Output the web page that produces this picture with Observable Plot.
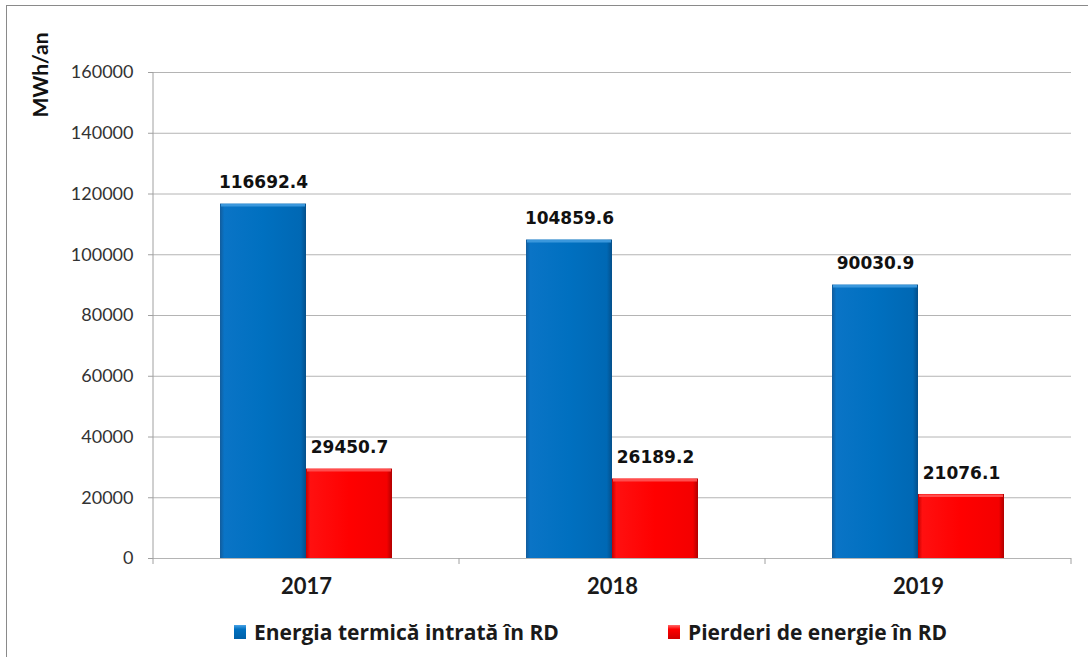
<!DOCTYPE html>
<html>
<head>
<meta charset="utf-8">
<script src="https://cdn.jsdelivr.net/npm/d3@7"></script>
<script src="https://cdn.jsdelivr.net/npm/@observablehq/plot@0.6"></script>
<style>
  body { margin: 0; background: #fff; }
  #wrap { position: relative; width: 1088px; height: 657px; overflow: hidden; background: #fff; }
  #frame { position: absolute; left: 6px; top: 5px; right: -10px; bottom: -10px;
           border-top: 1.5px solid #8a8a8a; border-left: 1.5px solid #8a8a8a; }
  #chart { position: absolute; left: 0; top: 0; }
  .leg { position: absolute; top: 618px; display: flex; align-items: center;
         font-family: "Open Sans", sans-serif; font-weight: bold;
         font-size: 21px; color: #1a1a1a; white-space: nowrap; }
  .sw { width: 12px; height: 14px; margin-right: 8px; }
</style>
</head>
<body>
<div id="wrap">
  <div id="frame"></div>
  <div id="chart"></div>
  <div class="leg" style="left:234px"><div class="sw" style="background:linear-gradient(#4aa3e6,#0070c0 30%,#0060a8)"></div><span id="l0"></span></div>
  <div class="leg" style="left:668px"><div class="sw" style="background:linear-gradient(#ff6a6a,#ff0000 30%,#d00000)"></div><span id="l1"></span></div>
</div>
<script>
const years = ["2017", "2018", "2019"];
const seriesNames = ["Energia termică intrată în RD", "Pierderi de energie în RD"];
const energieIntrata = [116692.4, 104859.6, 90030.9];
const pierderiEnergie = [29450.7, 26189.2, 21076.1];
const yTicks = [0, 20000, 40000, 60000, 80000, 100000, 120000, 140000, 160000];
const yTitle = "MWh/an";

const data = years.flatMap((yr, i) => [
  { year: yr, series: seriesNames[0], value: energieIntrata[i] },
  { year: yr, series: seriesNames[1], value: pierderiEnergie[i] }
]);

document.getElementById("l0").textContent = seriesNames[0];
document.getElementById("l1").textContent = seriesNames[1];

const fmt = d3.format(".1f");

const plot = Plot.plot({
  width: 1088,
  height: 600,
  marginLeft: 153,
  marginRight: 17,
  marginTop: 72,
  marginBottom: 42,
  style: { background: "transparent", overflow: "visible", fontFamily: "Lato, sans-serif" },
  fx: { domain: years, padding: 0, label: null },
  x: { domain: seriesNames, paddingInner: 0, paddingOuter: 0.76, axis: null },
  y: { domain: [0, 160000], label: null, axis: null },
  color: { domain: seriesNames, range: ["url(#gBlue)", "url(#gRed)"] },
  marks: [
    Plot.gridY(yTicks, { stroke: "#b4b4b4", strokeOpacity: 1, strokeWidth: 1 }),
    Plot.axisY(yTicks, { tickSize: 5, tickPadding: 15, tickFormat: d => String(d),
      fontSize: 18, fill: "#333", stroke: "#a0a0a0", label: null }),
    Plot.axisFx({ anchor: "bottom", tickSize: 0, tickPadding: 20, fontSize: 22,
      fontWeight: "bold", fill: "#1a1a1a", label: null }),
    Plot.barY(data, { fx: "year", x: "series", y: "value", fill: "series" }),
    Plot.tickY(data.filter(d => d.series === seriesNames[0]),
      { fx: "year", x: "series", y: "value", stroke: "#3a97dc", strokeWidth: 2.5, dy: 1.25, inset: 1 }),
    Plot.tickY(data.filter(d => d.series === seriesNames[1]),
      { fx: "year", x: "series", y: "value", stroke: "#ff4d4d", strokeWidth: 2.5, dy: 1.25, inset: 1 }),
    Plot.text(data, { fx: "year", x: "series", y: "value", text: d => fmt(d.value),
      dy: -21, fontSize: 17, fontWeight: "bold", fontFamily: "DejaVu Sans", fill: "#111" })
  ]
});

const svg = d3.select(plot);
const defs = svg.insert("defs", ":first-child");
function grad(id, stops) {
  const g = defs.append("linearGradient").attr("id", id)
    .attr("x1", 0).attr("x2", 1).attr("y1", 0).attr("y2", 0);
  stops.forEach(([o, c]) => g.append("stop").attr("offset", o).attr("stop-color", c));
}
grad("gBlue", [[0, "#125c9c"], [0.05, "#0a74c6"], [0.5, "#0070c0"], [0.94, "#0068b4"], [1, "#044f8a"]]);
grad("gRed", [[0, "#c40000"], [0.05, "#ff1010"], [0.5, "#ff0000"], [0.94, "#f40000"], [1, "#b00000"]]);

const fx = plot.scale("fx");
const y = plot.scale("y");
const y0 = y.apply(0), yTop = y.apply(yTicks[yTicks.length - 1]);
const xLeft = fx.apply(years[0]);
const g = svg.append("g").attr("stroke", "#a0a0a0").attr("stroke-width", 1);
g.append("line").attr("x1", xLeft).attr("x2", xLeft).attr("y1", yTop).attr("y2", y0);
const edges = years.map(yr => fx.apply(yr)).concat([fx.apply(years[years.length - 1]) + fx.bandwidth]);
edges.forEach(x => g.append("line").attr("x1", x).attr("x2", x).attr("y1", y0).attr("y2", y0 + 6));

svg.append("text").text(yTitle)
  .attr("transform", "translate(48,75) rotate(-90)")
  .attr("text-anchor", "middle")
  .attr("font-family", "Lato, sans-serif")
  .attr("font-weight", "bold")
  .attr("font-size", 21)
  .attr("fill", "#111");

document.getElementById("chart").appendChild(plot);
</script>
</body>
</html>
